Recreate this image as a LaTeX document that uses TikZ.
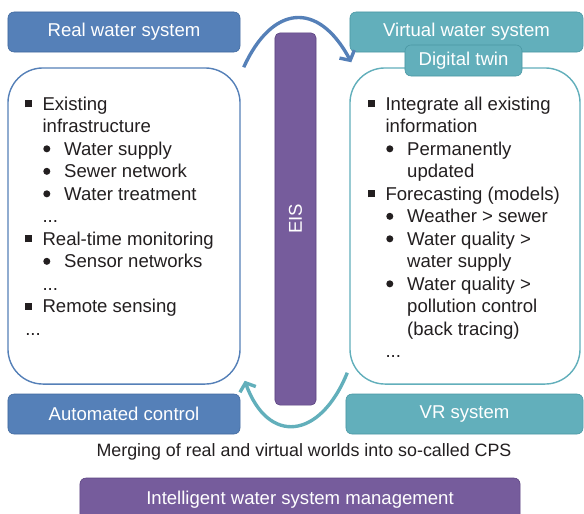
\documentclass[tikz,border=0pt]{standalone}
\usepackage{fontspec}
\setmainfont{Liberation Sans}
\usetikzlibrary{arrows.meta}

\definecolor{realblue}{HTML}{5580B8}
\definecolor{realedge}{HTML}{41699E}
\definecolor{virtteal}{HTML}{62AFBB}
\definecolor{virtedge}{HTML}{4A97A3}
\definecolor{eispurple}{HTML}{765C9C}
\definecolor{eisedge}{HTML}{5C4480}
\definecolor{inktext}{HTML}{231F20}

% list lines inside the two big boxes
\newcommand{\sqitem}[1]{\makebox[12.3pt][l]{\rule[2.2pt]{5pt}{5pt}}#1}
\newcommand{\dotitem}[1]{\hspace{12.8pt}\makebox[14.9pt][l]{\tikz[baseline=-4.7pt]\fill (2.5pt,0pt) circle (2.5pt);}#1}
\newcommand{\sqcont}[1]{\hspace{12.3pt}#1}
\newcommand{\dotcont}[1]{\hspace{27.7pt}#1}

\begin{document}
\begin{tikzpicture}[
            x=0.025cm, y=-0.025cm,
            font=\fontsize{13.2pt}{16pt}\selectfont,
            realhead/.style={
                rectangle,
                rounded corners=0.15cm,
                minimum width=5.8cm,
                minimum height=1cm,
                text centered,
                draw=realedge,
                fill=realblue,
                text=white
            },
            virthead/.style={
                realhead,
                draw=virtedge,
                fill=virtteal
            },
            bigbox/.style={
                rectangle,
                rounded corners=0.875cm,
                minimum width=5.8cm,
                minimum height=7.9cm,
                line width=1pt,
                fill=white
            },
            listtext/.style={
                anchor=north west,
                align=left,
                inner sep=0pt,
                text=inktext
            },
            linkarrow/.style={
                line width=2.4pt,
                -{Straight Barb[length=5pt,width=12pt]}
            }
        ]
            \useasboundingbox (0,0) rectangle (584,513);

            % Define nodes
            \node[realhead] (realhead) at (124,32) {Real water system};
            \node[bigbox, draw=realblue] (realbox) at (124,226) {};
            \node[listtext] (realtxt) at (25,96.7) {%
                \sqitem{Existing}\\
                \sqcont{infrastructure}\\
                \dotitem{Water supply}\\
                \dotitem{Sewer network}\\
                \dotitem{Water treatment}\\
                \sqcont{...}\\
                \sqitem{Real-time monitoring}\\
                \dotitem{Sensor networks}\\
                \sqcont{...}\\
                \sqitem{Remote sensing}\\
                ...};

            \node[rectangle, rounded corners=0.12cm, draw=eisedge, fill=eispurple,
                  minimum width=1.025cm, minimum height=9.3cm] (eisbar) at (295.5,219) {};
            \node[text=white, rotate=90] (eislabel) at (eisbar.center) {EIS};

            \node[virthead, minimum width=5.825cm] (virthead) at (466.5,32) {Virtual water system};
            \node[bigbox, draw=virtteal, minimum width=5.75cm] (twinbox) at (465,226) {};
            \node[virthead, minimum width=2.925cm, minimum height=0.775cm] (twinlabel) at (463.5,60.5) {Digital twin};
            \node[listtext] (twintxt) at (368,96.7) {%
                \sqitem{Integrate all existing}\\
                \sqcont{information}\\
                \dotitem{Permanently}\\
                \dotcont{updated}\\
                \sqitem{Forecasting (models)}\\
                \dotitem{Weather > sewer}\\
                \dotitem{Water quality >}\\
                \dotcont{water supply}\\
                \dotitem{Water quality >}\\
                \dotcont{pollution control}\\
                \dotcont{(back tracing)}\\
                \sqcont{...}};

            \node[realhead] (autoctrl) at (124,414) {Automated control};
            \node[virthead, minimum width=5.925cm] (vrsys) at (464.5,414) {VR system};

            \node[text=inktext, font=\fontsize{12.7pt}{15pt}\selectfont] (caption) at (304,452)
                {Merging of real and virtual worlds into so-called CPS};
            \node[realhead, draw=eisedge, fill=eispurple, minimum width=11cm,
                  minimum height=1.1cm] (iwsm) at (300,500) {Intelligent water system management};

            % Draw edges
            \draw[linkarrow, realblue] ([shift={(3,0)}]realbox.north east)
                .. controls (272,5) and (318,0) .. ([shift={(2,-5)}]twinbox.north west);
            \draw[linkarrow, virtteal] ([shift={(-2,-12)}]twinbox.south west)
                .. controls (320,440) and (268,445) .. ([shift={(4,-4)}]realbox.south east);
        \end{tikzpicture}
\end{document}
